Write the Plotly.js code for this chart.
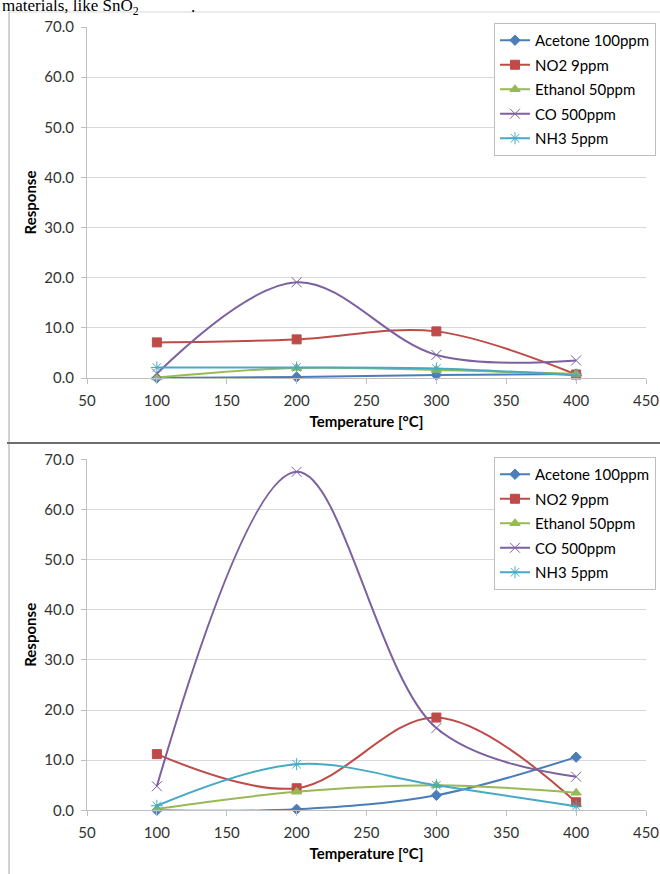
<!DOCTYPE html>
<html>
<head>
<meta charset="utf-8">
<script src="https://cdn.plot.ly/plotly-3.0.1.min.js"></script>
<style>
  html, body { margin: 0; padding: 0; background: #ffffff; }
  #chart { width: 660px; height: 874px; }
</style>
</head>
<body>
<div id="chart"></div>
<script>
// Operating temperatures (°C)
const temperatures = [100, 200, 300, 400];

// Gas names shown in the legends
const gasNames = ['Acetone 100ppm', 'NO2 9ppm', 'Ethanol 50ppm', 'CO 500ppm', 'NH3 5ppm'];

// Upper panel responses
const upperAcetone = [0.0, 0.2, 0.6, 0.8];
const upperNO2     = [7.1, 7.7, 9.3, 0.7];
const upperEthanol = [0.1, 2.0, 1.6, 0.8];
const upperCO      = [0.9, 19.1, 4.6, 3.5];
const upperNH3     = [2.1, 2.1, 1.9, 0.5];

// Lower panel responses
const lowerAcetone = [0.0, 0.2, 3.0, 10.6];
const lowerNO2     = [11.2, 4.4, 18.5, 1.6];
const lowerEthanol = [0.3, 3.7, 5.0, 3.5];
const lowerCO      = [4.8, 67.5, 16.4, 6.7];
const lowerNH3     = [0.9, 9.2, 5.0, 0.8];

// Axis tick values
const xTicks = [50, 100, 150, 200, 250, 300, 350, 400, 450];
const yTicks = [0, 10, 20, 30, 40, 50, 60, 70];

const W = 660, H = 874;
const px = v => v / W;
const py = v => 1 - v / H;

const styles = [
  { color: '#4A7EBB', symbol: 'diamond', size: 8 },
  { color: '#BE4B48', symbol: 'square', size: 9 },
  { color: '#98B954', symbol: 'triangle-up', size: 9 },
  { color: '#7D60A0', symbol: 'x-thin-open', size: 10 },
  { color: '#46AAC5', symbol: 'asterisk-open', size: 10 }
];

function makeTraces(values, xa, ya, legendId) {
  return values.map((vals, i) => ({
    type: 'scatter',
    mode: 'lines+markers',
    x: temperatures,
    y: vals,
    name: gasNames[i],
    xaxis: xa,
    yaxis: ya,
    legend: legendId,
    legendgroup: legendId + '-' + i,
    line: { color: styles[i].color, width: 2, shape: 'spline', smoothing: 1 },
    marker: {
      symbol: styles[i].symbol,
      size: styles[i].size,
      color: styles[i].color,
      line: { color: styles[i].color, width: 1 }
    },
    cliponaxis: false
  }));
}

const traces = [].concat(
  makeTraces([upperAcetone, upperNO2, upperEthanol, upperCO, upperNH3], 'x', 'y', 'legend'),
  makeTraces([lowerAcetone, lowerNO2, lowerEthanol, lowerCO, lowerNH3], 'x2', 'y2', 'legend2')
);

const sans = 'Lato, "Open Sans", sans-serif';
const tickFont = { family: sans, size: 15, color: '#333333' };
const titleFont = { family: sans, size: 15, color: '#000000' };

function xAxis(anchor) {
  return {
    anchor: anchor,
    domain: [px(87), px(646)],
    range: [50, 450],
    tickvals: xTicks,
    showgrid: false,
    zeroline: false,
    showline: true,
    linecolor: '#bfbfbf',
    linewidth: 1,
    ticks: 'outside',
    ticklen: 5,
    tickcolor: '#bfbfbf',
    tickfont: tickFont,
    ticklabelstandoff: 4,
    title: { text: '<b>Temperature [°C]</b>', font: titleFont, standoff: 8 },
    fixedrange: true
  };
}

function yAxis(anchor, top, bottom) {
  return {
    anchor: anchor,
    domain: [py(bottom), py(top)],
    range: [0, 70],
    tickvals: yTicks,
    tickformat: '.1f',
    showgrid: true,
    gridcolor: '#d9d9d9',
    gridwidth: 1,
    zeroline: false,
    showline: true,
    linecolor: '#bfbfbf',
    linewidth: 1,
    ticks: 'outside',
    ticklen: 5,
    tickcolor: '#bfbfbf',
    tickfont: tickFont,
    ticklabelstandoff: 4,
    title: { text: '<b>Response</b>', font: titleFont, standoff: 4 },
    fixedrange: true
  };
}

function legendBox(topPx) {
  return {
    x: px(656), y: py(topPx),
    xanchor: 'right', yanchor: 'top',
    bgcolor: '#ffffff',
    bordercolor: '#bfbfbf',
    borderwidth: 1,
    font: { family: sans, size: 15, color: '#000000' },
    itemwidth: 30,
    tracegroupgap: 2
  };
}

const serif = { family: '"Liberation Serif", "Times New Roman", serif', size: 17, color: '#000000' };

const layout = {
  width: W,
  height: H,
  margin: { l: 0, r: 0, t: 0, b: 0 },
  paper_bgcolor: '#ffffff',
  plot_bgcolor: '#ffffff',
  showlegend: true,
  xaxis: xAxis('y'),
  yaxis: yAxis('x', 27, 378),
  xaxis2: xAxis('y2'),
  yaxis2: yAxis('x2', 459.3, 810.3),
  legend: legendBox(23),
  legend2: legendBox(457),
  shapes: [
    // outer frame of the upper chart
    { type: 'line', xref: 'paper', yref: 'paper', x0: px(9), x1: 1, y0: py(12), y1: py(12),
      line: { color: '#d9d9d9', width: 1 } },
    { type: 'line', xref: 'paper', yref: 'paper', x0: px(9), x1: px(9), y0: py(12), y1: py(443),
      line: { color: '#a6a6a6', width: 1 } },
    // divider between the two charts
    { type: 'line', xref: 'paper', yref: 'paper', x0: px(7), x1: 1, y0: py(443), y1: py(443),
      line: { color: '#6e6e6e', width: 2 } },
    // left edge of the lower chart
    { type: 'line', xref: 'paper', yref: 'paper', x0: px(9), x1: px(9), y0: py(444), y1: 0,
      line: { color: '#a6a6a6', width: 1 } }
  ],
  annotations: [
    { xref: 'paper', yref: 'paper', x: 0, y: py(6.5), xanchor: 'left', yanchor: 'middle',
      text: 'materials, like SnO<sub>2</sub>', showarrow: false, font: serif },
    { xref: 'paper', yref: 'paper', x: px(189), y: py(6.5), xanchor: 'left', yanchor: 'middle',
      text: '.', showarrow: false, font: serif }
  ]
};

Plotly.newPlot('chart', traces, layout, { displayModeBar: false, staticPlot: true });
</script>
</body>
</html>
